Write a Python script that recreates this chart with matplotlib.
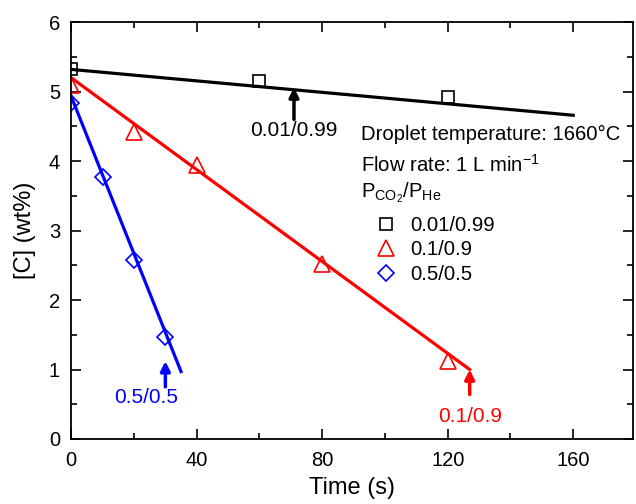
import matplotlib
matplotlib.use('Agg')
import matplotlib.pyplot as plt
from matplotlib.ticker import MultipleLocator

plt.rcParams['font.family'] = ['Liberation Sans', 'DejaVu Sans']
plt.rcParams['mathtext.fontset'] = 'custom'
plt.rcParams['mathtext.rm'] = 'Liberation Sans'
plt.rcParams['mathtext.it'] = 'Liberation Sans:italic'

# measured [C] vs time
t_001 = [0, 60, 120]
c_001 = [5.32, 5.15, 4.92]
t_01 = [0, 20, 40, 80, 120]
c_01 = [5.10, 4.42, 3.95, 2.52, 1.12]
t_05 = [0, 10, 20, 30]
c_05 = [4.83, 3.77, 2.58, 1.47]

# fitted lines (end points)
fit_t_001 = [0, 160]
fit_c_001 = [5.32, 4.66]
fit_t_01 = [0, 127]
fit_c_01 = [5.20, 1.00]
fit_t_05 = [0, 35]
fit_c_05 = [4.93, 0.97]

labels = ['0.01/0.99', '0.1/0.9', '0.5/0.5']

fig = plt.figure(figsize=(6.36, 5.04), dpi=100)
ax = fig.add_axes([0.112, 0.129, 0.883, 0.827])

ax.plot(fit_t_001, fit_c_001, color='black', lw=2.3)
ax.plot(fit_t_01, fit_c_01, color='red', lw=2.3)
ax.plot(fit_t_05, fit_c_05, color='blue', lw=2.3)

h1, = ax.plot(t_001, c_001, ls='none', marker='s', ms=8.5, mfc='none', mec='black', mew=1.2, label=labels[0])
h2, = ax.plot(t_01, c_01, ls='none', marker='^', ms=11, mfc='none', mec='red', mew=1.2, label=labels[1])
h3, = ax.plot(t_05, c_05, ls='none', marker='D', ms=8.5, mfc='none', mec='blue', mew=1.2, label=labels[2])

# arrows + labels
arrows = [(71, 4.60, 5.06, 4.44, 71, 'black', labels[0]),
          (30, 0.75, 1.12, 0.59, 24, 'blue', labels[2]),
          (127, 0.64, 1.00, 0.33, 127, 'red', labels[1])]
for x, y0, y1, ty, tx, col, lab in arrows:
    ax.annotate('', xy=(x, y1), xytext=(x, y0),
                arrowprops=dict(arrowstyle='-|>', color=col, lw=2.5, mutation_scale=14,
                                shrinkA=0, shrinkB=0))
    ax.text(tx, ty, lab, color=col, fontsize=15, ha='center', va='center')

ax.text(92.3, 4.38, 'Droplet temperature: 1660°C', fontsize=14.6, va='center')
ax.text(92.3, 3.95, 'Flow rate: 1 L min$^{\\mathrm{-1}}$', fontsize=14.6, va='center')
ax.text(92.3, 3.55, r'P$_{\mathrm{CO_2}}$/P$_{\mathrm{He}}$', fontsize=14.6, va='center')

ax.legend(handles=[h1, h2, h3], loc='upper left', bbox_to_anchor=(0.513, 0.57),
          frameon=False, fontsize=14.6, handlelength=1.2, handletextpad=0.6,
          labelspacing=0.28, borderpad=0.2)

ax.set_xlim(0, 179)
ax.set_ylim(0, 6)
ax.xaxis.set_major_locator(MultipleLocator(40))
ax.xaxis.set_minor_locator(MultipleLocator(20))
ax.yaxis.set_major_locator(MultipleLocator(1))
ax.yaxis.set_minor_locator(MultipleLocator(0.5))
ax.tick_params(which='both', direction='in', top=True, right=True, width=1.2, labelsize=14.5)
ax.tick_params(which='major', length=7)
ax.tick_params(which='minor', length=4)
ax.tick_params(axis='x', pad=9)
ax.tick_params(axis='y', pad=8)
ax.tick_params(labelright=False, labeltop=False)
for s in ax.spines.values():
    s.set_linewidth(1.3)

ax.set_xlabel('Time (s)', fontsize=17, labelpad=5)
ax.set_ylabel('[C] (wt%)', fontsize=17, labelpad=9)

fig.savefig('out.png', dpi=100)
